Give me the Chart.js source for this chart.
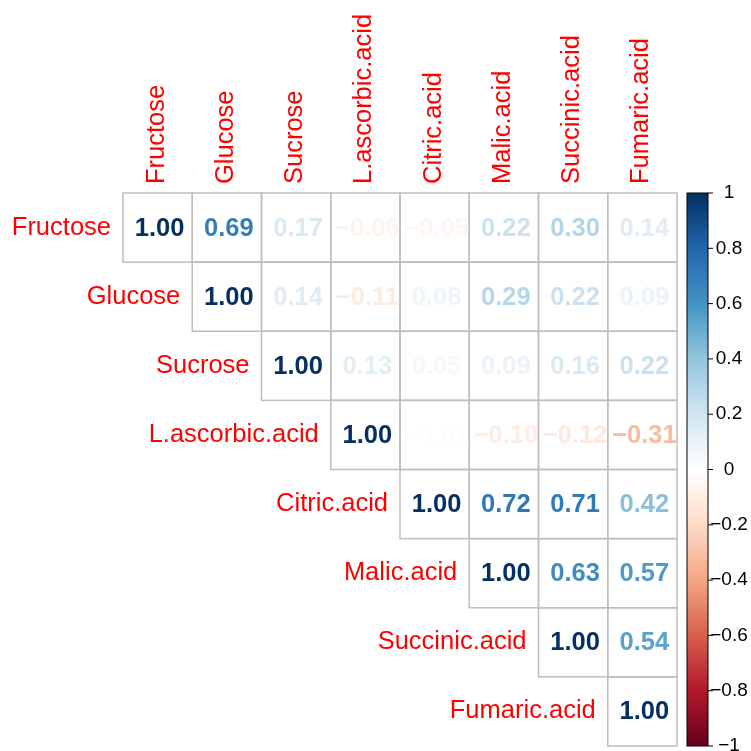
<!DOCTYPE html>
<html>
<head>
<meta charset="utf-8">
<script src="https://cdn.jsdelivr.net/npm/chart.js@4"></script>
<style>
html,body{margin:0;padding:0;background:#fff;}
#wrap{width:751px;height:751px;position:relative;}
</style>
</head>
<body>
<div id="wrap"><canvas id="c" width="751" height="751"></canvas></div>
<script>
const variables = ["Fructose","Glucose","Sucrose","L.ascorbic.acid","Citric.acid","Malic.acid","Succinic.acid","Fumaric.acid"];
// upper triangle rows (starting at the diagonal)
const rowFructose = [1.00, 0.69, 0.17, -0.06, -0.05, 0.22, 0.30, 0.14];
const rowGlucose = [1.00, 0.14, -0.11, 0.08, 0.29, 0.22, 0.09];
const rowSucrose = [1.00, 0.13, 0.05, 0.09, 0.16, 0.22];
const rowAscorbic = [1.00, -0.01, -0.10, -0.12, -0.31];
const rowCitric = [1.00, 0.72, 0.71, 0.42];
const rowMalic = [1.00, 0.63, 0.57];
const rowSuccinic = [1.00, 0.54];
const rowFumaric = [1.00];
const colorbarTicks = [1, 0.8, 0.6, 0.4, 0.2, 0, -0.2, -0.4, -0.6, -0.8, -1];
const palette = ["#67001F","#B2182B","#D6604D","#F4A582","#FDDBC7","#FFFFFF","#D1E5F0","#92C5DE","#4393C3","#2166AC","#053061"];

const rows = [rowFructose,rowGlucose,rowSucrose,rowAscorbic,rowCitric,rowMalic,rowSuccinic,rowFumaric];
const n = variables.length;
const points = [];
rows.forEach((r,i)=>r.forEach((v,k)=>points.push({x:i+k+0.5,y:i+0.5,v:v})));

function hex(h){return [parseInt(h.substr(1,2),16),parseInt(h.substr(3,2),16),parseInt(h.substr(5,2),16)];}
function colorFor(v){
  const t=(v+1)/2*(palette.length-1);
  const i=Math.min(Math.floor(t),palette.length-2);
  const f=t-i;
  const a=hex(palette[i]),b=hex(palette[i+1]);
  const c=a.map((x,j)=>Math.round(x+(b[j]-x)*f));
  return `rgb(${c[0]},${c[1]},${c[2]})`;
}
function fmt(v){const s=Math.abs(v).toFixed(2);return (v<0?"\u2212":"")+s;}

const corrPlugin = {
  id:'corr',
  afterDatasetsDraw(chart){
    const ctx=chart.ctx, xs=chart.scales.x, ys=chart.scales.y;
    ctx.save();
    // cell borders
    ctx.strokeStyle="#BEBEBE"; ctx.lineWidth=1.5;
    points.forEach(p=>{
      const x0=xs.getPixelForValue(p.x-0.5), x1=xs.getPixelForValue(p.x+0.5);
      const y0=ys.getPixelForValue(p.y-0.5), y1=ys.getPixelForValue(p.y+0.5);
      ctx.strokeRect(x0,y0,x1-x0,y1-y0);
    });
    // numbers
    ctx.font="bold 25.5px 'Liberation Sans', Arial, sans-serif";
    ctx.textAlign="center"; ctx.textBaseline="middle";
    points.forEach(p=>{
      ctx.fillStyle=colorFor(p.v);
      ctx.fillText(fmt(p.v), xs.getPixelForValue(p.x)+2, ys.getPixelForValue(p.y)+1);
    });
    // row labels
    ctx.font="25.5px 'Liberation Sans', Arial, sans-serif";
    ctx.fillStyle="#FF0000";
    ctx.textAlign="right";
    variables.forEach((name,i)=>{
      ctx.fillText(name, xs.getPixelForValue(i)-12, ys.getPixelForValue(i+0.5));
    });
    // column labels
    ctx.textAlign="left";
    variables.forEach((name,i)=>{
      ctx.save();
      ctx.translate(xs.getPixelForValue(i+0.5)-1, ys.getPixelForValue(0)-9);
      ctx.rotate(-Math.PI/2);
      ctx.fillText(name,0,0);
      ctx.restore();
    });
    // colour bar
    const top=ys.getPixelForValue(0), bot=ys.getPixelForValue(n);
    const cbL=687, cbR=708;
    const yOf=v=>top+(1-v)/2*(bot-top);
    const g=ctx.createLinearGradient(0,bot,0,top);
    palette.forEach((c,i)=>g.addColorStop(i/(palette.length-1),c));
    ctx.fillStyle=g;
    ctx.fillRect(cbL,top,cbR-cbL,bot-top);
    ctx.strokeStyle="#000"; ctx.lineWidth=1;
    ctx.strokeRect(cbL,top,cbR-cbL,bot-top);
    ctx.font="19px 'Liberation Sans', Arial, sans-serif";
    ctx.fillStyle="#000"; ctx.textAlign="center"; ctx.textBaseline="middle";
    colorbarTicks.forEach(v=>{
      const y=yOf(v);
      ctx.beginPath(); ctx.moveTo(cbR,y); ctx.lineTo(cbR+5,y); ctx.stroke();
      const s = v<0 ? "\u2212"+Math.abs(v) : String(v);
      ctx.fillText(s, 729, y);
    });
    ctx.restore();
  }
};

new Chart(document.getElementById('c'),{
  type:'scatter',
  data:{datasets:[{data:points,pointRadius:0,pointHoverRadius:0}]},
  options:{
    responsive:false,animation:false,
    layout:{padding:{left:123,top:193,right:74,bottom:5}},
    plugins:{legend:{display:false},tooltip:{enabled:false}},
    scales:{
      x:{type:'linear',min:0,max:n,display:false},
      y:{type:'linear',min:0,max:n,reverse:true,display:false}
    }
  },
  plugins:[corrPlugin]
});
</script>
</body>
</html>
